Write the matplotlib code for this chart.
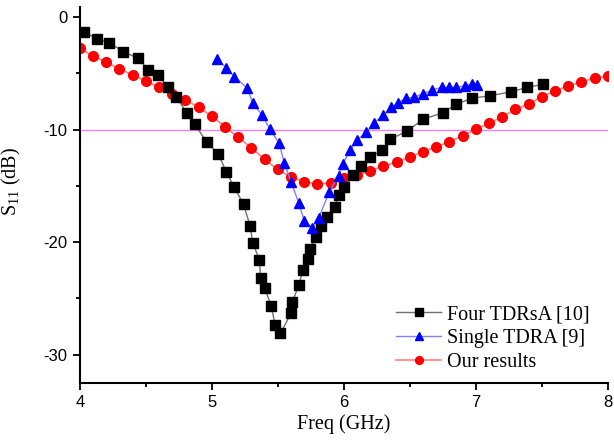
import matplotlib
matplotlib.use('Agg')
import matplotlib.pyplot as plt

# Four TDRsA [10]
f_four = [4.03, 4.13, 4.22, 4.33, 4.44, 4.52, 4.59, 4.67, 4.73, 4.81, 4.87, 4.96,
          5.05, 5.11, 5.17, 5.24, 5.29, 5.31, 5.36, 5.37, 5.40, 5.45, 5.48, 5.52,
          5.60, 5.61, 5.66, 5.69, 5.73, 5.74, 5.79, 5.83, 5.87, 5.93, 5.96, 6.00,
          6.07, 6.13, 6.20, 6.29, 6.35, 6.48, 6.60, 6.75, 6.85, 6.97, 7.11, 7.27,
          7.39, 7.51]
s_four = [-1.28, -1.93, -2.26, -3.06, -3.65, -4.69, -5.16, -6.23, -7.07, -8.50, -9.50, -11.08,
          -12.20, -13.75, -15.14, -16.62, -18.56, -20.07, -21.55, -23.21, -24.08, -25.65, -27.40, -28.09,
          -26.33, -25.29, -23.81, -22.44, -21.46, -20.61, -19.54, -18.58, -17.76, -16.86, -15.85, -15.14,
          -14.00, -13.24, -12.44, -11.82, -10.86, -10.12, -9.08, -8.49, -7.75, -7.21, -6.98, -6.63,
          -6.23, -5.97]

# Single TDRA [9]
f_single = [5.04, 5.11, 5.17, 5.27, 5.31, 5.38, 5.44, 5.51, 5.55, 5.60, 5.66, 5.70,
            5.76, 5.81, 5.89, 5.96, 5.99, 6.05, 6.10, 6.17, 6.23, 6.30, 6.36, 6.41,
            6.47, 6.53, 6.60, 6.67, 6.74, 6.80, 6.85, 6.92, 6.97, 7.01]
s_single = [-3.74, -4.49, -5.29, -6.32, -7.66, -8.70, -9.97, -11.22, -13.00, -14.64, -16.56, -18.11,
            -18.72, -17.83, -15.53, -14.09, -13.06, -11.82, -10.93, -10.24, -9.39, -8.70, -8.01, -7.60,
            -7.21, -7.12, -6.83, -6.47, -6.23, -6.23, -6.23, -6.11, -5.94, -6.03]

# Our results
f_ours = [4.0, 4.1, 4.2, 4.3, 4.4, 4.5, 4.6, 4.7, 4.8, 4.9, 5.0, 5.1, 5.2, 5.3,
          5.4, 5.5, 5.6, 5.7, 5.8, 5.9, 6.0, 6.1, 6.2, 6.3, 6.4, 6.5, 6.6, 6.7,
          6.8, 6.9, 7.0, 7.1, 7.2, 7.3, 7.4, 7.5, 7.6, 7.7, 7.8, 7.9, 8.0]
s_ours = [-2.76, -3.45, -4.01, -4.60, -5.14, -5.67, -6.23, -6.83, -7.36, -8.01, -8.79, -9.74,
          -10.69, -11.61, -12.65, -13.54, -14.22, -14.62, -14.84, -14.73, -14.27, -14.02, -13.67,
          -13.22, -12.90, -12.41, -11.97, -11.52, -11.08, -10.54, -9.97, -9.44, -8.85, -8.19,
          -7.72, -7.07, -6.54, -6.12, -5.73, -5.43, -5.23]

serif = 'Liberation Serif'
sans = 'Liberation Sans'

plt.rcParams['axes.unicode_minus'] = False
plt.rcParams['mathtext.fontset'] = 'custom'
plt.rcParams['mathtext.rm'] = serif

fig = plt.figure(figsize=(6.14, 4.40), dpi=100)
ax = fig.add_axes([0.130, 0.130, 0.860, 0.854])

# -10 dB reference line
ax.axhline(-10, color='#f080f0', lw=1.0, zorder=1)

ax.plot(f_four, s_four, color='#707070', lw=1.0, marker='s', ms=6.5,
        mfc='black', mec='black', label='Four TDRsA [10]', zorder=3)
ax.plot(f_single, s_single, color='#8080ff', lw=1.0, marker='^', ms=7.5,
        mfc='blue', mec='blue', label='Single TDRA [9]', zorder=4)
ax.plot(f_ours, s_ours, color='#ff8080', lw=1.2, marker='o', ms=7,
        mfc='red', mec='red', label='Our results', zorder=2)

ax.set_xlim(4, 8)
ax.set_ylim(-32.5, 0.9)
ax.set_xticks([4, 5, 6, 7, 8])
ax.set_xticks([4.5, 5.5, 6.5, 7.5], minor=True)
ax.set_yticks([0, -10, -20, -30])
ax.set_yticks([-5, -15, -25], minor=True)

for s in ['top', 'right']:
    ax.spines[s].set_visible(False)
for s in ['left', 'bottom']:
    ax.spines[s].set_linewidth(1.5)

ax.tick_params(which='major', direction='out', length=5, width=1.3, labelsize=12, pad=4)
ax.tick_params(which='minor', direction='out', length=3, width=1.3)
for lab in ax.get_xticklabels() + ax.get_yticklabels():
    lab.set_fontfamily(sans)

ax.set_xlabel('Freq (GHz)', fontfamily=serif, fontsize=14.5)
ax.xaxis.set_label_coords(0.5, -0.083)
ax.set_ylabel('S$_{11}$ (dB)', fontfamily=serif, fontsize=14.5)
ax.yaxis.set_label_coords(-0.108, 0.537)

ax.legend(loc='lower right', bbox_to_anchor=(0.965, 0.028), frameon=False,
          prop={'family': serif, 'size': 14.5}, markerscale=0.8,
          handlelength=2.2, labelspacing=0.25, borderpad=0, borderaxespad=0,
          handletextpad=0.3)

fig.savefig('out.png', dpi=100)
